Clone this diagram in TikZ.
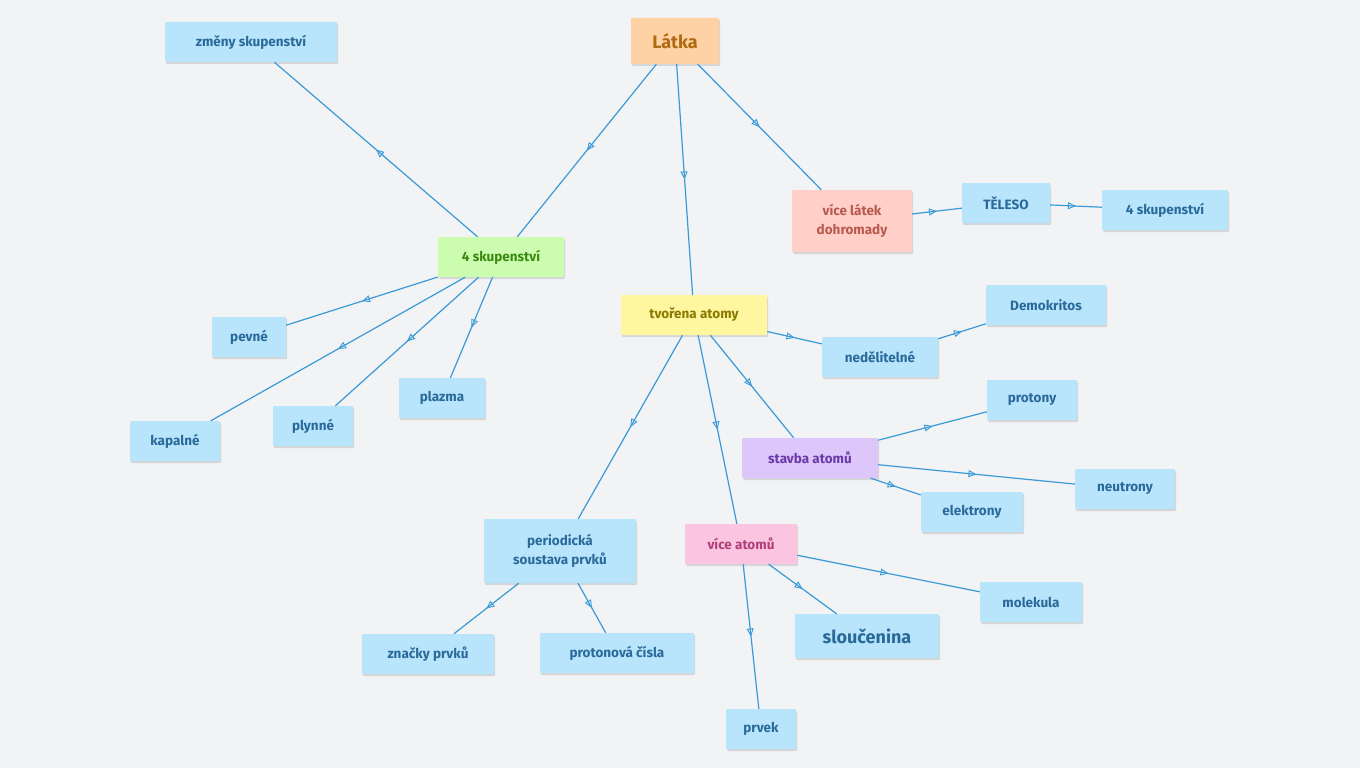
\documentclass[tikz,border=0pt]{standalone}
\usepackage{fontspec}
\setmainfont{Fira Sans}
\usetikzlibrary{decorations.markings,arrows.meta,shadows}
\definecolor{bg}{HTML}{F1F3F5}
\definecolor{ln}{HTML}{3A9AD8}
\definecolor{bf}{HTML}{B8E4FC}
\definecolor{bt}{HTML}{2A6A9A}
\tikzset{
 b/.style={fill=bf,text=bt,font=\fontsize{13.5}{17}\selectfont\bfseries,inner sep=0pt,align=center,rounded corners=1pt,drop shadow={shadow xshift=1pt,shadow yshift=-2pt,opacity=0.25}},
 e/.style={draw=ln,line width=1.2pt,postaction={decorate},decoration={markings,mark=at position 0.5 with {\arrow[line width=0.9pt]{Triangle[open,length=8pt,width=7pt]}}}}
}
\begin{document}
\begin{tikzpicture}[x=1pt,y=-1pt]
\fill[bg] (0,0) rectangle (1360,768);
\node[b,minimum width=88,minimum height=46,fill=orange!35,text={rgb,255:red,176;green,106;blue,16},font=\fontsize{18}{22}\selectfont\bfseries] (L) at (675,41) {Látka};
\node[b,minimum width=172,minimum height=40] (zm) at (251,42) {změny skupenství};
\node[b,minimum width=126,minimum height=40,fill={rgb,255:red,204;green,252;blue,176},text={rgb,255:red,58;green,138;blue,16}] (s4) at (501,257) {4 skupenství};
\node[b,minimum width=74,minimum height=40] (pe) at (249,337) {pevné};
\node[b,minimum width=90,minimum height=40] (ka) at (175,441) {kapalné};
\node[b,minimum width=80,minimum height=40] (pl) at (313,426) {plynné};
\node[b,minimum width=86,minimum height=40] (pz) at (442,398) {plazma};
\node[b,minimum width=146,minimum height=40,fill={rgb,255:red,255;green,246;blue,160},text={rgb,255:red,138;green,122;blue,0}] (tv) at (694,315) {tvořena atomy};
\node[b,minimum width=120,minimum height=62,fill={rgb,255:red,255;green,207;blue,200},text={rgb,255:red,184;green,90;blue,80}] (vl) at (852,221) {více látek\\[2pt]dohromady};
\node[b,minimum width=88,minimum height=40] (te) at (1006,203) {TĚLESO};
\node[b,minimum width=126,minimum height=40] (s4b) at (1165,210) {4 skupenství};
\node[b,minimum width=116,minimum height=40] (ne) at (880,357) {nedělitelné};
\node[b,minimum width=120,minimum height=40] (de) at (1046,305) {Demokritos};
\node[b,minimum width=90,minimum height=40] (pr) at (1032,400) {protony};
\node[b,minimum width=136,minimum height=40,fill={rgb,255:red,220;green,198;blue,250},text={rgb,255:red,106;green,58;blue,168}] (st) at (810,458) {stavba atomů};
\node[b,minimum width=100,minimum height=40] (nu) at (1125,489) {neutrony};
\node[b,minimum width=102,minimum height=40] (el) at (972,512) {elektrony};
\node[b,minimum width=152,minimum height=64] (ps) at (560,551) {periodická\\[2pt]soustava prvků};
\node[b,minimum width=112,minimum height=40,fill={rgb,255:red,251;green,196;blue,224},text={rgb,255:red,176;green,64;blue,122}] (va) at (741,544) {více atomů};
\node[b,minimum width=102,minimum height=40] (mo) at (1031,602) {molekula};
\node[b,minimum width=144,minimum height=44,font=\fontsize{18}{22}\selectfont\bfseries] (sl) at (867,636) {sloučenina};
\node[b,minimum width=132,minimum height=40] (zn) at (428,654) {značky prvků};
\node[b,minimum width=154,minimum height=40] (pc) at (617,653) {protonová čísla};
\node[b,minimum width=70,minimum height=40] (pk) at (761,729) {prvek};
\draw[e] (L) -- (s4);
\draw[e] (L) -- (tv);
\draw[e] (L) -- (vl);
\draw[e] (s4) -- (zm);
\draw[e] (s4) -- (pe);
\draw[e] (s4) -- (ka);
\draw[e] (s4) -- (pl);
\draw[e] (s4) -- (pz);
\draw[e] (vl) -- (te);
\draw[e] (te) -- (s4b);
\draw[e] (tv) -- (ne);
\draw[e] (ne) -- (de);
\draw[e] (tv) -- (st);
\draw[e] (tv) -- (ps);
\draw[e] (tv) -- (va);
\draw[e] (st) -- (pr);
\draw[e] (st) -- (nu);
\draw[e] (st) -- (el);
\draw[e] (ps) -- (zn);
\draw[e] (ps) -- (pc);
\draw[e] (va) -- (mo);
\draw[e] (va) -- (sl);
\draw[e] (va) -- (pk);
\end{tikzpicture}
\end{document}
